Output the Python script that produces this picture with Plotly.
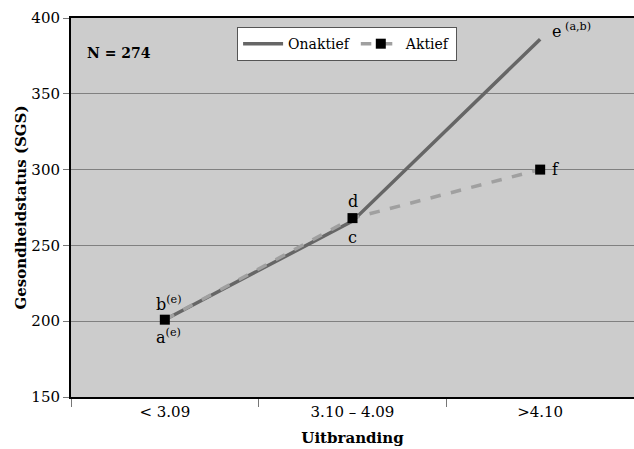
import plotly.graph_objects as go

categories = ["< 3.09", "3.10 – 4.09", ">4.10"]
onaktief = [201, 266, 386]
aktief = [201, 268, 300]
y_ticks = [150, 200, 250, 300, 350, 400]

FONT = "DejaVu Serif, Liberation Serif, serif"

fig = go.Figure()
fig.add_trace(go.Scatter(x=categories, y=onaktief, name="Onaktief", mode="lines",
                         line=dict(color="#666666", width=3.5)))
fig.add_trace(go.Scatter(x=categories, y=aktief, name="Aktief", mode="lines+markers",
                         line=dict(color="#a0a0a0", width=3.5, dash="dash"),
                         marker=dict(symbol="square", size=10, color="black")))

ann = [
    (categories[0], aktief[0], "b<sup>(e)</sup>", 4, 16),
    (categories[0], onaktief[0], "a<sup>(e)</sup>", 4, -17),
    (categories[1], aktief[1], "d", 0, 17),
    (categories[1], onaktief[1], "c", 0, -16),
    (categories[2], onaktief[2], "e<sup> (a,b)</sup>", 31, 9),
    (categories[2], aktief[2], "f", 15, 0),
]
for x, y, t, dx, dy in ann:
    fig.add_annotation(x=x, y=y, text=t, showarrow=False, xshift=dx, yshift=dy,
                       font=dict(family=FONT, size=16, color="black"))

fig.add_annotation(xref="paper", yref="paper", x=0.025, y=0.935, xanchor="left",
                   text="<b>N = 274</b>", showarrow=False,
                   font=dict(family=FONT, size=14, color="black"))

fig.update_layout(
    width=634, height=449,
    margin=dict(l=71, r=0, t=18, b=52),
    paper_bgcolor="white", plot_bgcolor="#cccccc",
    font=dict(family=FONT, size=15, color="black"),
    showlegend=True,
    legend=dict(orientation="h", x=0.295, y=0.976, xanchor="left", yanchor="top",
                bgcolor="white", bordercolor="#555555", borderwidth=1,
                font=dict(family=FONT, size=14), itemwidth=40,
                tracegroupgap=0),
    xaxis=dict(type="category", range=[-0.5, 2.5], showgrid=False,
               showline=True, linecolor="black", linewidth=2, mirror=True,
               ticks="outside", tickson="boundaries", ticklen=8, tickcolor="#777777",
               title=dict(text="<b>Uitbranding</b>", font=dict(family=FONT, size=15), standoff=12),
               tickfont=dict(family=FONT, size=15)),
    yaxis=dict(range=[150, 400], tickvals=y_ticks, showgrid=True, gridcolor="#808080",
               gridwidth=1, zeroline=False, showline=True, linecolor="black", linewidth=2,
               ticks="outside", ticklen=6, tickcolor="#777777",
               title=dict(text="<b>Gesondheidstatus (SGS)</b>", font=dict(family=FONT, size=15), standoff=1),
               tickfont=dict(family=FONT, size=15)),
)

fig.write_html("out.html", config={"displayModeBar": False},
               post_script="document.body.style.margin='0';document.body.style.overflow='hidden';")
